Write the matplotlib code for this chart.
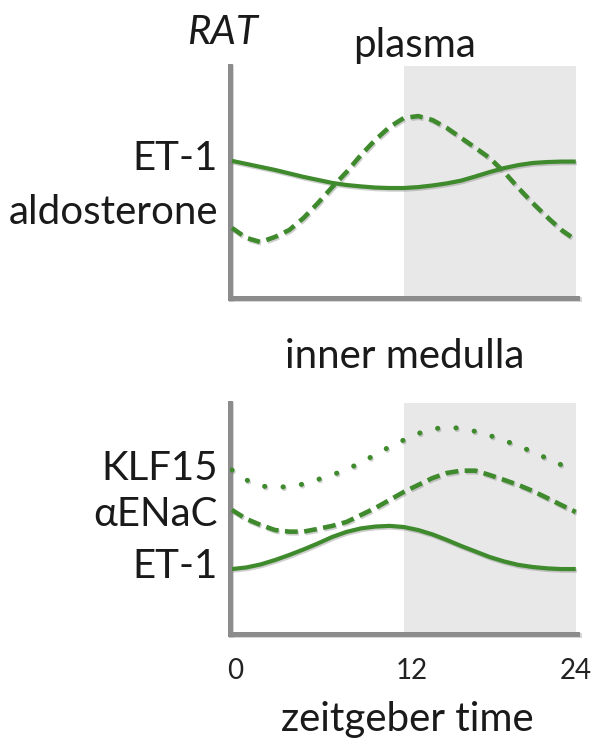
import matplotlib
matplotlib.use("Agg")
import matplotlib.pyplot as plt
import matplotlib.patheffects as pe
import matplotlib.transforms as mtransforms

# ---------------- data (relative levels) ----------------
zt = list(range(0, 25))

plasma_et1 = [59.1, 57.8, 56.5, 55.2, 53.7, 52.2, 50.9, 49.6, 48.7, 48.1, 47.6, 47.4,
              47.4, 47.8, 48.5, 49.4, 50.6, 52.4, 54.3, 56.0, 57.3, 58.2, 58.6, 58.8, 58.8]
plasma_aldo = [30.2, 25.9, 24.1, 26.3, 29.3, 34.5, 40.9, 47.8, 54.3, 61.6, 68.1, 73.7,
               77.6, 78.4, 76.7, 73.3, 69.0, 64.7, 60.3, 54.3, 47.4, 40.9, 34.9, 29.3, 25.0]

im_klf15 = [71.0, 66.7, 64.1, 63.4, 63.9, 64.9, 66.9, 68.8, 71.4, 74.0, 77.7, 81.0,
            84.0, 86.8, 88.7, 89.6, 89.0, 87.7, 85.9, 83.8, 81.4, 78.8, 76.0, 73.2, 70.6]
im_enac = [53.7, 49.8, 47.2, 45.0, 44.3, 44.3, 45.5, 46.8, 48.5, 51.5, 54.5, 58.0,
           61.5, 64.5, 67.5, 69.7, 70.7, 70.7, 68.8, 66.7, 64.5, 61.9, 58.9, 55.8, 52.8]
im_et1 = [28.1, 28.8, 30.1, 32.0, 34.2, 36.6, 39.2, 42.0, 44.2, 45.7, 46.5, 46.8,
          46.3, 45.0, 43.1, 40.7, 38.1, 35.7, 33.3, 31.4, 29.9, 29.0, 28.4, 28.1, 28.1]

xticks = [0, 12, 24]
xtick_labels = ["0", "12", "24"]
dark_phase = (12, 24)

plasma_labels = ["ET-1", "aldosterone"]
medulla_labels = ["KLF15", "\u03b1ENaC", "ET-1"]

# ---------------- style ----------------
GREEN = "#3e8a2c"
SPINE = "#8c8c8c"
SHADE = "#e8e8e8"
FONT = ["Lato", "DejaVu Sans"]
plt.rcParams["font.family"] = FONT

fig = plt.figure(figsize=(6, 7.5), dpi=100)
ax1 = fig.add_axes([0.383, 0.6027, 0.579, 0.3093])
ax2 = fig.add_axes([0.383, 0.1547, 0.579, 0.3080])

shadow = [pe.SimpleLineShadow(offset=(0.8, -1.2), shadow_color="#777777", alpha=0.35),
          pe.Normal()]

def style_axes(ax):
    ax.set_xlim(-0.15, 24.1)
    ax.set_ylim(0, 100)
    ax.axvspan(dark_phase[0], dark_phase[1], color=SHADE, zorder=0, lw=0)
    for s in ["top", "right"]:
        ax.spines[s].set_visible(False)
    for s in ["left", "bottom"]:
        ax.spines[s].set_color(SPINE)
        ax.spines[s].set_linewidth(3.6)
        ax.spines[s].set_path_effects(
            [pe.SimpleLineShadow(offset=(1, -1), shadow_color="#999999", alpha=0.4), pe.Normal()])
    ax.set_yticks([])
    ax.tick_params(axis="x", length=0)

style_axes(ax1)
style_axes(ax2)
ax1.set_xticks([])

# top panel
ax1.plot(zt, plasma_et1, color=GREEN, lw=3.0, solid_capstyle="butt", path_effects=shadow, zorder=3)
ax1.plot(zt, plasma_aldo, color=GREEN, lw=3.3, linestyle=(0, (2.7, 1.5)),
         dash_capstyle="butt", path_effects=shadow, zorder=3)

# bottom panel
ax2.plot(zt, im_klf15, color=GREEN, lw=3.6, linestyle=(0, (0.05, 3.65)),
         dash_capstyle="round", path_effects=shadow, zorder=3)
ax2.plot(zt, im_enac, color=GREEN, lw=3.3, linestyle=(0, (2.8, 1.4)),
         dash_capstyle="butt", path_effects=shadow, zorder=3)
ax2.plot(zt, im_et1, color=GREEN, lw=3.0, solid_capstyle="butt", path_effects=shadow, zorder=3)

ax2.set_xticks(xticks)
ax2.set_xticklabels(xtick_labels, fontsize=20, color="#222222")
ax2.tick_params(axis="x", pad=17)
label_shift_px = [3, 8, 0]
for lab, dx in zip(ax2.get_xticklabels(), label_shift_px):
    lab.set_transform(lab.get_transform() +
                      mtransforms.ScaledTranslation(dx / 100.0, 0, fig.dpi_scale_trans))

def fx(px):
    return px / 600.0

def fy(py):
    return 1 - py / 750.0

TXT = dict(color="#1a1a1a", fontsize=29)
fig.text(fx(222), fy(33), "RAT", ha="center", va="center", style="italic", **TXT)
fig.text(fx(415), fy(45), "plasma", ha="center", va="center", **TXT)
fig.text(fx(218), fy(158), plasma_labels[0], ha="right", va="center", **TXT)
fig.text(fx(218), fy(212), plasma_labels[1], ha="right", va="center", **TXT)

fig.text(fx(405), fy(356), "inner medulla", ha="center", va="center", **TXT)
fig.text(fx(218), fy(468), medulla_labels[0], ha="right", va="center", **TXT)
fig.text(fx(218), fy(515), medulla_labels[1], ha="right", va="center", **TXT)
fig.text(fx(218), fy(567), medulla_labels[2], ha="right", va="center", **TXT)

fig.text(fx(407), fy(720), "zeitgeber time", ha="center", va="center", **TXT)

fig.savefig("out.png", dpi=100, facecolor="white")
